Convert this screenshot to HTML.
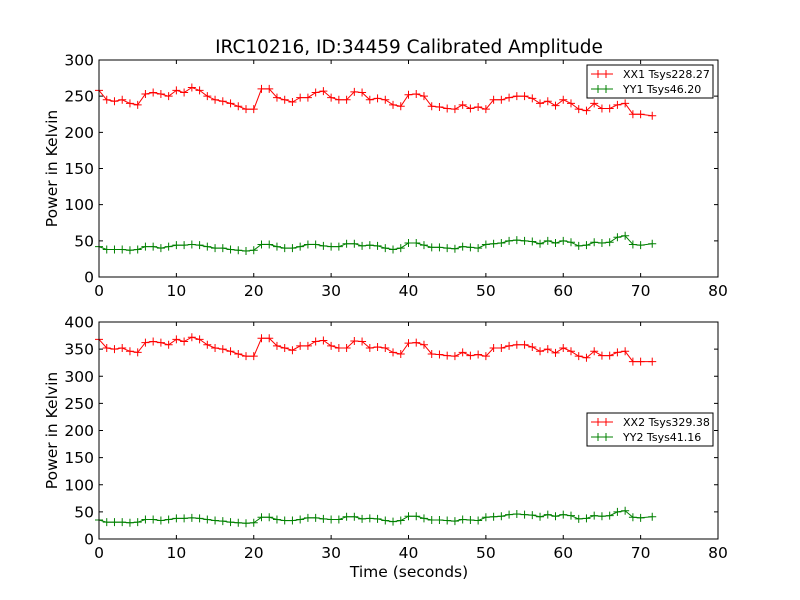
<!DOCTYPE html>
<html><head><meta charset="utf-8"><style>
body{margin:0;background:#fff;}
svg{display:block;font-family:"DejaVu Sans","Liberation Sans",sans-serif;}
</style></head><body>
<svg id="c" width="800" height="600"></svg>
<script>
const times=[0,1,2,3,4,5,6,7,8,9,10,11,12,13,14,15,16,17,18,19,20,21,22,23,24,25,26,27,28,29,30,31,32,33,34,35,36,37,38,39,40,41,42,43,44,45,46,47,48,49,50,51,52,53,54,55,56,57,58,59,60,61,62,63,64,65,66,67,68,69,70,71.5];
const xx1=[258,245,243,245,240,238,253,255,253,250,258,255,262,258,250,245,243,240,236,232,232,260,260,248,245,242,248,248,255,257,248,245,245,256,255,245,247,245,238,236,252,253,250,236,235,233,232,238,233,235,232,245,245,248,250,250,247,240,243,237,245,240,232,230,240,233,233,238,240,225,225,223];
const yy1=[42,38,38,38,37,38,42,42,40,42,44,44,45,44,42,40,40,38,37,36,37,45,45,42,40,40,42,45,45,43,42,42,46,46,43,44,43,40,38,40,47,47,44,41,41,40,39,42,41,40,45,46,47,50,51,50,49,46,50,47,50,48,43,44,48,47,48,55,57,45,44,46];
const xx2=[368,352,350,352,346,344,362,364,362,358,368,364,372,368,358,352,350,346,341,337,337,370,370,356,352,348,356,356,364,366,356,352,352,365,364,352,354,352,344,341,361,362,358,341,340,338,337,344,338,340,337,352,352,356,358,358,354,346,350,343,352,346,337,334,346,338,338,344,346,327,327,327];
const yy2=[35,31,31,31,30,31,36,36,34,36,38,38,39,38,36,34,33,31,30,29,30,40,40,36,34,34,36,39,39,37,36,36,41,41,37,38,37,34,32,34,42,42,38,35,35,34,33,36,35,34,40,41,42,45,46,45,44,41,45,42,45,43,37,38,43,42,43,50,52,40,39,41];
const xTicks=[0,10,20,30,40,50,60,70,80];
const yTicksTop=[0,50,100,150,200,250,300];
const yTicksBot=[0,50,100,150,200,250,300,350,400];

const NS='http://www.w3.org/2000/svg';
const svg=document.getElementById('c');
function mk(tag,attrs,parent){const e=document.createElementNS(NS,tag);for(const k in attrs)e.setAttribute(k,attrs[k]);(parent||svg).appendChild(e);return e;}

const L=99,R=718;
function panel(top,bot,ymax,yTicks,s1,s2,n1,n2,legY,pname){
  const g=mk('g',{});
  
  
  const sx=v=>L+(v-0)/80*(R-L);
  const sy=v=>bot-v/ymax*(bot-top);
  function series(vals,color,name){
    const sg=mk('g',{},g);
    
    
    const pts=vals.map((v,i)=>sx(times[i]).toFixed(1)+','+sy(v).toFixed(1)).join(' ');
    mk('polyline',{points:pts,fill:'none',stroke:color,'stroke-width':1},sg);
    let d='';
    vals.forEach((v,i)=>{const x=sx(times[i]),y=sy(v);d+=`M${x-4},${y}h8M${x},${y-4}v8`;});
    const m=mk('path',{d:d,stroke:color,'stroke-width':1,fill:'none'},sg);
    
    
  }
  series(s1,'#ff0000',n1.split(' ')[0].toLowerCase()+'-series');
  series(s2,'#008000',n2.split(' ')[0].toLowerCase()+'-series');
  mk('rect',{x:L,y:top,width:R-L,height:bot-top,fill:'none',stroke:'#000','stroke-width':1},g);
  xTicks.forEach(t=>{const x=sx(t);
    mk('path',{d:`M${x},${bot}v-4M${x},${top}v4`,stroke:'#000'},g);
    const tx=mk('text',{x:x,y:bot+19,'font-size':15.5,'text-anchor':'middle'},g);tx.textContent=t;
    
    
  });
  yTicks.forEach(t=>{const y=sy(t);
    mk('path',{d:`M${L},${y}h4M${R},${y}h-4`,stroke:'#000'},g);
    const tx=mk('text',{x:L-5,y:y+5.5,'font-size':15.5,'text-anchor':'end'},g);tx.textContent=t;
    
    
  });
  const yl=mk('text',{x:0,y:0,'font-size':15.5,'text-anchor':'middle',transform:`translate(57,${(top+bot)/2}) rotate(-90)`},g);
  yl.textContent='Power in Kelvin';
  
  
  const lg=mk('g',{},g);
  
  
  mk('rect',{x:587,y:legY,width:126,height:33,fill:'#fff',stroke:'#000','stroke-width':1},lg);
  [[n1,'#ff0000'],[n2,'#008000']].forEach((e,i)=>{
    const y=legY+9+i*15;
    mk('path',{d:`M591,${y}h22M598,${y-4}v8M606,${y-4}v8`,stroke:e[1]},lg);
    const tx=mk('text',{x:623,y:y+4,'font-size':11},lg);tx.textContent=e[0];
    
    
  });
}
panel(60,277,300,yTicksTop,xx1,yy1,'XX1 Tsys228.27','YY1 Tsys46.20',65,'top-panel');
panel(322,539,400,yTicksBot,xx2,yy2,'XX2 Tsys329.38','YY2 Tsys41.16',413,'bottom-panel');
const t=mk('text',{x:409,y:53,'font-size':18.5,'text-anchor':'middle'});
t.textContent='IRC10216, ID:34459 Calibrated Amplitude';


const xt=mk('text',{x:409,y:577,'font-size':15.5,'text-anchor':'middle'});
xt.textContent='Time (seconds)';


</script>
</body></html>
